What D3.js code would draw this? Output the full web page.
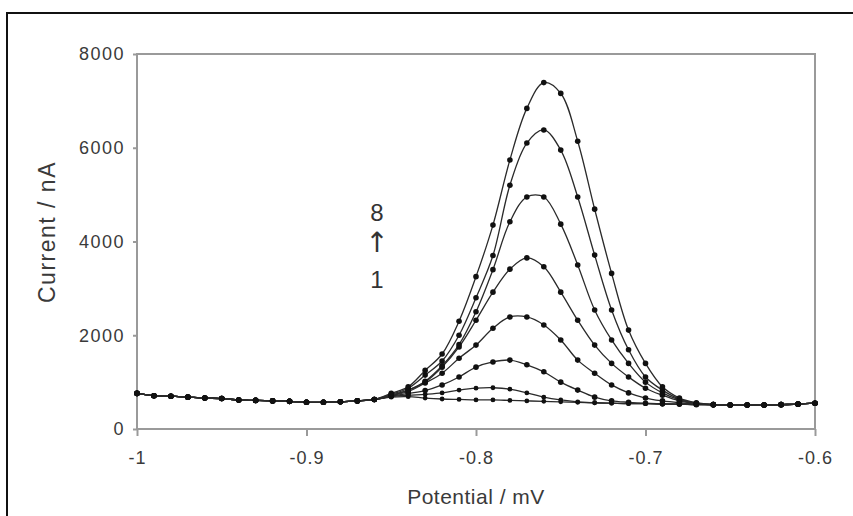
<!DOCTYPE html>
<html>
<head>
<meta charset="utf-8">
<script src="https://cdn.jsdelivr.net/npm/d3@7"></script>
<style>
    body { margin: 0; background: #fff; }
    text { font-family: "Liberation Sans", Arial, sans-serif; fill: #3a3a3a; }
    .tick line { stroke: #9a9a9a; stroke-width: 2; }
</style>
</head>
<body>
<div id="chart"></div>
<script>
// potential (V, axis labelled mV) sampled every 0.01
const potential = [-1.00, -0.99, -0.98, -0.97, -0.96, -0.95, -0.94, -0.93, -0.92, -0.91,
    -0.90, -0.89, -0.88, -0.87, -0.86, -0.85, -0.84, -0.83, -0.82, -0.81,
    -0.80, -0.79, -0.78, -0.77, -0.76, -0.75, -0.74, -0.73, -0.72, -0.71,
    -0.70, -0.69, -0.68, -0.67, -0.66, -0.65, -0.64, -0.63, -0.62, -0.61, -0.60]

const current1 = [760, 710, 700, 680, 660, 650, 620, 610, 600, 590, 570, 570, 580, 600, 630,
    680, 690, 660, 640, 630, 620, 620, 610, 600, 590, 580, 570, 560, 550, 540, 540, 530, 530, 520,
    520, 510, 510, 510, 520, 530, 550]
const current2 = [760, 710, 700, 680, 660, 650, 620, 610, 600, 590, 570, 570, 580, 600, 630,
    690, 720, 740, 770, 830, 870, 880, 850, 770, 680, 620, 580, 560, 550, 540, 540, 530, 530, 520,
    520, 510, 510, 510, 520, 530, 550]
const current3 = [760, 710, 700, 680, 660, 650, 620, 610, 600, 590, 570, 570, 580, 600, 630,
    700, 760, 820, 940, 1110, 1320, 1430, 1470, 1370, 1220, 1000, 830, 680, 600, 570, 550, 540, 530, 520,
    520, 510, 510, 510, 520, 530, 550]
const current4 = [760, 710, 700, 680, 660, 650, 620, 610, 600, 590, 570, 570, 580, 600, 630,
    710, 800, 980, 1190, 1510, 1790, 2150, 2390, 2390, 2220, 1900, 1470, 1190, 940, 770, 660, 600, 560, 530,
    520, 510, 510, 510, 520, 530, 550]
const current5 = [760, 710, 700, 680, 660, 650, 620, 610, 600, 590, 570, 570, 580, 600, 630,
    720, 830, 1000, 1320, 1750, 2320, 2920, 3410, 3650, 3460, 2920, 2320, 1790, 1400, 1110, 870, 720, 600, 540,
    520, 510, 510, 510, 520, 530, 550]
const current6 = [760, 710, 700, 680, 660, 650, 620, 610, 600, 590, 570, 570, 580, 600, 630,
    720, 830, 1020, 1350, 1800, 2500, 3400, 4420, 4950, 4950, 4370, 3500, 2540, 1900, 1400, 1000, 770, 620, 540,
    520, 510, 510, 510, 520, 530, 550]
const current7 = [760, 710, 700, 680, 660, 650, 620, 610, 600, 590, 570, 570, 580, 600, 630,
    740, 870, 1150, 1450, 2000, 2800, 3700, 5200, 6100, 6380, 5950, 4950, 3710, 2540, 1690, 1110, 830, 640, 550,
    520, 510, 510, 510, 520, 530, 550]
const current8 = [760, 710, 700, 680, 660, 650, 620, 610, 600, 590, 570, 570, 580, 600, 630,
    760, 900, 1250, 1600, 2300, 3250, 4350, 5740, 6840, 7390, 7160, 6140, 4690, 3320, 2110, 1400, 900, 660, 560,
    520, 510, 510, 510, 520, 530, 550]

const xTicks = [-1, -0.9, -0.8, -0.7, -0.6]
const yTicks = [0, 2000, 4000, 6000, 8000]
const annotation = ['8', '\u2191', '1']

const width = 853
const height = 516
const plot = { left: 137, right: 815, top: 54, bottom: 429 }

const svg = d3.select('#chart')
    .append('svg')
    .attr('width', width)
    .attr('height', height)

svg.append('rect')
    .attr('width', width)
    .attr('height', height)
    .attr('fill', '#fff')

// outer border of the figure (runs off at the right and bottom)
svg.append('rect')
    .attr('x', 7)
    .attr('y', 13)
    .attr('width', 870)
    .attr('height', 540)
    .attr('fill', 'none')
    .attr('stroke', '#111')
    .attr('stroke-width', 2)

const x = d3.scaleLinear().domain([-1, -0.6]).range([plot.left, plot.right])
const y = d3.scaleLinear().domain([0, 8000]).range([plot.bottom, plot.top])

const xAxis = svg.append('g')
    .attr('transform', `translate(0, ${plot.bottom})`)
    .call(d3.axisBottom(x)
        .tickValues(xTicks)
        .tickSize(7)
        .tickPadding(15)
        .tickFormat(d => String(d)))
xAxis.select('.domain').remove()
xAxis.selectAll('text')
    .style('font-size', '18px')
    .style('letter-spacing', '1px')

const yAxis = svg.append('g')
    .attr('transform', `translate(${plot.left}, 0)`)
    .call(d3.axisLeft(y)
        .tickValues(yTicks)
        .tickSize(4)
        .tickPadding(8)
        .tickFormat(d => String(d)))
yAxis.select('.domain').remove()
yAxis.selectAll('text')
    .style('font-size', '18px')
    .style('letter-spacing', '1.5px')

// plot frame
svg.append('rect')
    .attr('x', plot.left)
    .attr('y', plot.top)
    .attr('width', plot.right - plot.left)
    .attr('height', plot.bottom - plot.top)
    .attr('fill', 'none')
    .attr('stroke', '#9a9a9a')
    .attr('stroke-width', 2)

const series = [current1, current2, current3, current4, current5, current6, current7, current8]

const line = d3.line()
    .x((d, i) => x(potential[i]))
    .y(d => y(d))
    .curve(d3.curveCatmullRom.alpha(0.5))

const curves = svg.append('g').attr('id', 'curves')

curves.selectAll('path')
    .data(series)
    .enter()
    .append('path')
    .attr('d', d => line(d))
    .attr('fill', 'none')
    .attr('stroke', '#2a2a2a')
    .attr('stroke-width', 1.3)

series.forEach((values, s) => {
    curves.append('g')
        .selectAll('circle')
        .data(values)
        .enter()
        .append('circle')
        .attr('cx', (d, i) => x(potential[i]))
        .attr('cy', d => y(d))
        .attr('r', s < 2 ? 2.4 : 2.8)
        .attr('fill', '#111')
})

// axis titles
svg.append('text')
    .attr('transform', 'translate(49, 232) rotate(-90)')
    .attr('text-anchor', 'middle')
    .attr('dominant-baseline', 'middle')
    .style('font-size', '23px')
    .style('letter-spacing', '1.5px')
    .text('Current / nA')

svg.append('text')
    .attr('x', 476)
    .attr('y', 504)
    .attr('text-anchor', 'middle')
    .style('font-size', '21px')
    .style('letter-spacing', '0.5px')
    .text('Potential / mV')

// "8 ↑ 1" marker for the series order
svg.append('g')
    .selectAll('text')
    .data(annotation)
    .enter()
    .append('text')
    .attr('x', 377)
    .attr('y', (d, i) => [221, 252, 288][i])
    .attr('text-anchor', 'middle')
    .style('font-family', (d, i) => i === 1 ? '"DejaVu Sans", sans-serif' : null)
    .style('font-size', (d, i) => i === 1 ? '28px' : '24px')
    .style('fill', '#333')
    .text(d => d)
</script>
</body>
</html>
